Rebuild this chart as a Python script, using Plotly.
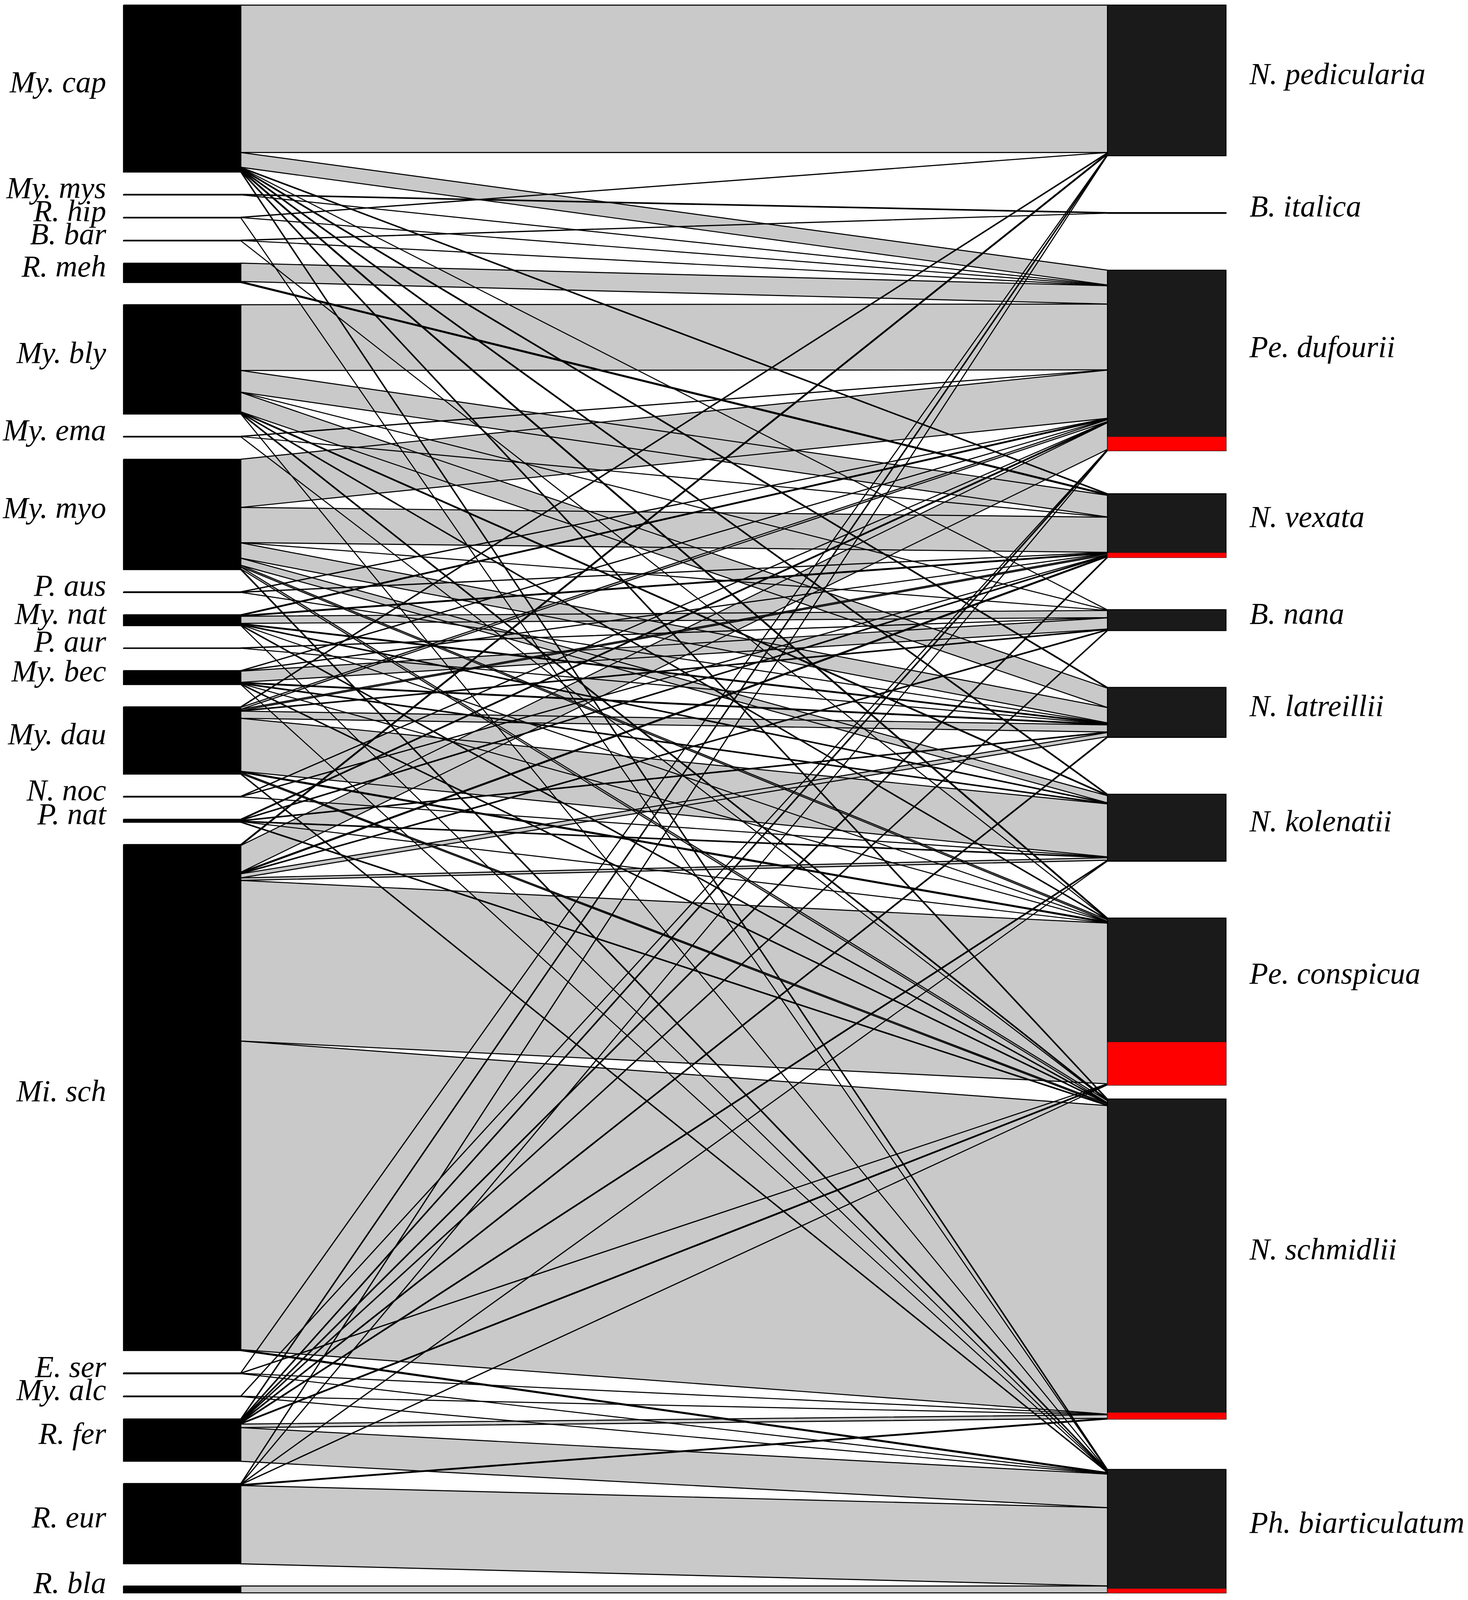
import plotly.graph_objects as go

# bat hosts (lower level, left) and bat flies (higher level, right)
hosts = ["My. cap", "My. mys", "R. hip", "B. bar", "R. meh", "My. bly", "My. ema",
         "My. myo", "P. aus", "My. nat", "P. aur", "My. bec", "My. dau", "N. noc",
         "P. nat", "Mi. sch", "E. ser", "My. alc", "R. fer", "R. eur", "R. bla"]
flies = ["N. pedicularia", "B. italica", "Pe. dufourii", "N. vexata", "B. nana",
         "N. latreillii", "N. kolenatii", "Pe. conspicua", "N. schmidlii",
         "Ph. biarticulatum"]

# interaction counts, one row per host, columns in the order of flies
my_cap = [578, 0, 58, 2, 1, 3, 3, 4, 3, 3]
my_mys = [0, 2, 1, 0, 0, 0, 0, 0, 0, 0]
r_hip = [1, 0, 1, 0, 0, 0, 0, 0, 0, 1]
b_bar = [0, 1, 1, 0, 0, 0, 0, 1, 0, 0]
r_meh = [0, 0, 72, 4, 0, 0, 0, 0, 0, 0]
my_bly = [0, 0, 258, 85, 1, 76, 3, 2, 3, 1]
my_ema = [0, 0, 1, 1, 0, 0, 0, 0, 1, 0]
my_myo = [0, 0, 189, 138, 1, 60, 28, 6, 8, 3]
p_aus = [0, 0, 1, 1, 0, 1, 0, 0, 0, 0]
my_nat = [0, 0, 3, 3, 28, 3, 2, 1, 2, 1]
p_aur = [0, 0, 0, 0, 1, 1, 0, 0, 0, 0]
my_bec = [0, 0, 1, 1, 44, 3, 2, 1, 2, 1]
my_dau = [2, 0, 8, 5, 2, 28, 208, 4, 5, 2]
n_noc = [0, 0, 1, 1, 0, 0, 1, 0, 0, 0]
p_nat = [0, 0, 3, 2, 0, 2, 2, 1, 2, 0]
mi_sch = [4, 0, 105, 4, 2, 16, 10, 630, 1210, 4]
e_ser = [1, 0, 0, 0, 0, 0, 0, 1, 1, 1]
my_alc = [0, 0, 1, 0, 0, 0, 0, 0, 1, 1]
r_fer = [3, 0, 3, 3, 2, 3, 3, 3, 14, 132]
r_eur = [2, 0, 1, 0, 0, 0, 1, 1, 3, 307]
r_bla = [0, 0, 0, 0, 0, 0, 0, 0, 0, 27]

web = [my_cap, my_mys, r_hip, b_bar, r_meh, my_bly, my_ema, my_myo, p_aus, my_nat,
       p_aur, my_bec, my_dau, n_noc, p_nat, mi_sch, e_ser, my_alc, r_fer, r_eur, r_bla]

# part of each fly box shown in red
red = [0, 0, 54, 18, 0, 0, 0, 168, 25, 16]

nl, nh = len(hosts), len(flies)
row_tot = [sum(r) for r in web]
col_tot = [sum(web[i][j] for i in range(nl)) for j in range(nh)]

gap_low = 87
total_h = sum(row_tot) + gap_low * (nl - 1)
gap_high = (total_h - (sum(col_tot) - sum(red)) - red[-1]) / (nh - 1)

low_top = []
y = 0
for t in row_tot:
    low_top.append(y)
    y += t + gap_low

high_top = []
y = 0
for t, r in zip(col_tot, red):
    high_top.append(y)
    y += t - r + gap_high

XL0, XL1 = 100, 195      # host boxes
XH0, XH1 = 897, 993      # fly boxes
k = total_h / 1558       # counts per screen unit
lift = 4 * k             # labels sit a little above the box centre

# links
lx, ly = [], []
for i in range(nl):
    for j in range(nh):
        w = web[i][j]
        if w == 0:
            continue
        yl0 = low_top[i] + sum(web[i][:j])
        yh0 = high_top[j] + sum(web[k2][j] for k2 in range(i))
        lx += [XL1, XH0, XH0, XL1, XL1, None]
        ly += [yl0, yh0, yh0 + w, yl0 + w, yl0, None]

def rects(x0, x1, tops, sizes):
    xs, ys = [], []
    for t, s in zip(tops, sizes):
        xs += [x0, x1, x1, x0, x0, None]
        ys += [t, t, t + s, t + s, t, None]
    return xs, ys

fig = go.Figure()
fig.add_scatter(x=lx, y=ly, mode="lines", fill="toself", fillcolor="#c9c9c9",
                line=dict(color="black", width=2.7), hoverinfo="skip")

bx, by = rects(XL0, XL1, low_top, row_tot)
fig.add_scatter(x=bx, y=by, mode="lines", fill="toself", fillcolor="black",
                line=dict(color="black", width=2.4), hoverinfo="skip")

hx, hy = rects(XH0, XH1, high_top, col_tot)
fig.add_scatter(x=hx, y=hy, mode="lines", fill="toself", fillcolor="#1a1a1a",
                line=dict(color="black", width=2.4), hoverinfo="skip")

red_top = [t + c - r for t, c, r in zip(high_top, col_tot, red) if r > 0]
red_h = [r for r in red if r > 0]
rx, ry = rects(XH0, XH1, red_top, red_h)
fig.add_scatter(x=rx, y=ry, mode="lines", fill="toself", fillcolor="#ff0000",
                line=dict(color="#ff0000", width=0.5), hoverinfo="skip")

font = dict(family="Liberation Serif", size=78, color="black", style="italic")
fig.add_scatter(x=[86] * nl,
                y=[t + s / 2 - lift for t, s in zip(low_top, row_tot)],
                mode="text", text=hosts, textposition="middle left", textfont=font,
                hoverinfo="skip")
fig.add_scatter(x=[1012] * nh,
                y=[t + (c - r) / 2 - lift for t, c, r in zip(high_top, col_tot, red)],
                mode="text", text=flies, textposition="middle right", textfont=font,
                hoverinfo="skip")

fig.update_xaxes(range=[0, 1189], visible=False)
fig.update_yaxes(range=[1565 * k, -5 * k], visible=False)
fig.update_layout(autosize=True, margin=dict(l=0, r=0, t=0, b=0),
                  plot_bgcolor="white", paper_bgcolor="white", showlegend=False)

fig.write_html("out.html", default_width="100vw", default_height="100vh",
               config={"displayModeBar": False},
               post_script="document.body.style.margin='0px';")
